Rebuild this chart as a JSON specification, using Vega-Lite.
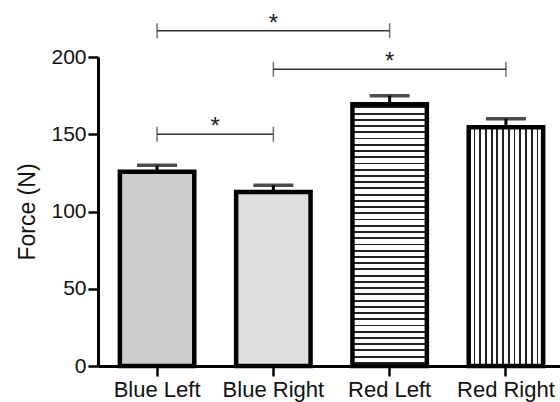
{
  "$schema": "https://vega.github.io/schema/vega-lite/v6.json",
  "width": 462,
  "height": 309,
  "autosize": {"type": "none"},
  "padding": {"left": 98, "top": 57, "right": 0, "bottom": 36},
  "background": "white",
  "config": {
    "view": {"stroke": null},
    "font": "Liberation Sans",
    "axis": {
      "domainColor": "black",
      "domainWidth": 3,
      "tickColor": "black",
      "tickWidth": 2.5,
      "tickSize": 10,
      "labelFontSize": 21,
      "labelColor": "#111",
      "labelFont": "Liberation Sans",
      "titleFont": "Liberation Sans",
      "titleFontSize": 23,
      "titleFontWeight": "normal",
      "titleColor": "#111",
      "grid": false
    }
  },
  "datasets": {
    "bars": [
      {"group": "Blue Left", "force": 125.8, "err": 130},
      {"group": "Blue Right", "force": 112.6, "err": 117},
      {"group": "Red Left", "force": 169.4, "err": 175},
      {"group": "Red Right", "force": 154.5, "err": 160}
    ],
    "brackets": [
      {"from": "Blue Left", "to": "Red Left", "y": 217},
      {"from": "Blue Right", "to": "Red Right", "y": 192},
      {"from": "Blue Left", "to": "Blue Right", "y": 150}
    ]
  },
  "layer": [
    {
      "data": {"name": "bars"},
      "transform": [{"filter": "datum.group === 'Blue Left'"}],
      "mark": {"type": "bar", "fill": "#cccccc", "stroke": "black", "strokeWidth": 4.5},
      "encoding": {
        "x": {
          "field": "group", "type": "nominal", "sort": null, "title": null,
          "scale": {"domain": ["Blue Left", "Blue Right", "Red Left", "Red Right"], "range": [0, 467], "paddingInner": 0.36, "paddingOuter": 0.188},
          "axis": {"labelAngle": 0, "labelPadding": 3, "labelFontSize": 22}
        },
        "y": {
          "field": "force", "type": "quantitative", "title": "Force (N)",
          "scale": {"domain": [0, 200], "nice": false},
          "axis": {"values": [0, 50, 100, 150, 200], "labelPadding": 2, "titlePadding": 11}
        }
      }
    },
    {
      "data": {"name": "bars"},
      "transform": [{"filter": "datum.group === 'Blue Right'"}],
      "mark": {"type": "bar", "fill": "#dedede", "stroke": "black", "strokeWidth": 4.5},
      "encoding": {
        "x": {"field": "group", "type": "nominal", "sort": null, "title": null},
        "y": {"field": "force", "type": "quantitative", "title": "Force (N)"}
      }
    },
    {
      "data": {"name": "bars"},
      "transform": [{"filter": "datum.group === 'Red Left'"}],
      "mark": {
        "type": "bar", "stroke": "black", "strokeWidth": 4.5,
        "fill": {
          "gradient": "linear", "x1": 0, "y1": 0, "x2": 0, "y2": 1,
          "stops": [
            {"offset": 0.00833, "color": "white"}, {"offset": 0.00833, "color": "#222"}, {"offset": 0.01548, "color": "#222"}, {"offset": 0.01548, "color": "white"},
            {"offset": 0.03214, "color": "white"}, {"offset": 0.03214, "color": "#222"}, {"offset": 0.03929, "color": "#222"}, {"offset": 0.03929, "color": "white"},
            {"offset": 0.05595, "color": "white"}, {"offset": 0.05595, "color": "#222"}, {"offset": 0.0631, "color": "#222"}, {"offset": 0.0631, "color": "white"},
            {"offset": 0.07976, "color": "white"}, {"offset": 0.07976, "color": "#222"}, {"offset": 0.0869, "color": "#222"}, {"offset": 0.0869, "color": "white"},
            {"offset": 0.10357, "color": "white"}, {"offset": 0.10357, "color": "#222"}, {"offset": 0.11071, "color": "#222"}, {"offset": 0.11071, "color": "white"},
            {"offset": 0.12738, "color": "white"}, {"offset": 0.12738, "color": "#222"}, {"offset": 0.13452, "color": "#222"}, {"offset": 0.13452, "color": "white"},
            {"offset": 0.15119, "color": "white"}, {"offset": 0.15119, "color": "#222"}, {"offset": 0.15833, "color": "#222"}, {"offset": 0.15833, "color": "white"},
            {"offset": 0.175, "color": "white"}, {"offset": 0.175, "color": "#222"}, {"offset": 0.18214, "color": "#222"}, {"offset": 0.18214, "color": "white"},
            {"offset": 0.19881, "color": "white"}, {"offset": 0.19881, "color": "#222"}, {"offset": 0.20595, "color": "#222"}, {"offset": 0.20595, "color": "white"},
            {"offset": 0.22262, "color": "white"}, {"offset": 0.22262, "color": "#222"}, {"offset": 0.22976, "color": "#222"}, {"offset": 0.22976, "color": "white"},
            {"offset": 0.24643, "color": "white"}, {"offset": 0.24643, "color": "#222"}, {"offset": 0.25357, "color": "#222"}, {"offset": 0.25357, "color": "white"},
            {"offset": 0.27024, "color": "white"}, {"offset": 0.27024, "color": "#222"}, {"offset": 0.27738, "color": "#222"}, {"offset": 0.27738, "color": "white"},
            {"offset": 0.29405, "color": "white"}, {"offset": 0.29405, "color": "#222"}, {"offset": 0.30119, "color": "#222"}, {"offset": 0.30119, "color": "white"},
            {"offset": 0.31786, "color": "white"}, {"offset": 0.31786, "color": "#222"}, {"offset": 0.325, "color": "#222"}, {"offset": 0.325, "color": "white"},
            {"offset": 0.34167, "color": "white"}, {"offset": 0.34167, "color": "#222"}, {"offset": 0.34881, "color": "#222"}, {"offset": 0.34881, "color": "white"},
            {"offset": 0.36548, "color": "white"}, {"offset": 0.36548, "color": "#222"}, {"offset": 0.37262, "color": "#222"}, {"offset": 0.37262, "color": "white"},
            {"offset": 0.38929, "color": "white"}, {"offset": 0.38929, "color": "#222"}, {"offset": 0.39643, "color": "#222"}, {"offset": 0.39643, "color": "white"},
            {"offset": 0.4131, "color": "white"}, {"offset": 0.4131, "color": "#222"}, {"offset": 0.42024, "color": "#222"}, {"offset": 0.42024, "color": "white"},
            {"offset": 0.4369, "color": "white"}, {"offset": 0.4369, "color": "#222"}, {"offset": 0.44405, "color": "#222"}, {"offset": 0.44405, "color": "white"},
            {"offset": 0.46071, "color": "white"}, {"offset": 0.46071, "color": "#222"}, {"offset": 0.46786, "color": "#222"}, {"offset": 0.46786, "color": "white"},
            {"offset": 0.48452, "color": "white"}, {"offset": 0.48452, "color": "#222"}, {"offset": 0.49167, "color": "#222"}, {"offset": 0.49167, "color": "white"},
            {"offset": 0.50833, "color": "white"}, {"offset": 0.50833, "color": "#222"}, {"offset": 0.51548, "color": "#222"}, {"offset": 0.51548, "color": "white"},
            {"offset": 0.53214, "color": "white"}, {"offset": 0.53214, "color": "#222"}, {"offset": 0.53929, "color": "#222"}, {"offset": 0.53929, "color": "white"},
            {"offset": 0.55595, "color": "white"}, {"offset": 0.55595, "color": "#222"}, {"offset": 0.5631, "color": "#222"}, {"offset": 0.5631, "color": "white"},
            {"offset": 0.57976, "color": "white"}, {"offset": 0.57976, "color": "#222"}, {"offset": 0.5869, "color": "#222"}, {"offset": 0.5869, "color": "white"},
            {"offset": 0.60357, "color": "white"}, {"offset": 0.60357, "color": "#222"}, {"offset": 0.61071, "color": "#222"}, {"offset": 0.61071, "color": "white"},
            {"offset": 0.62738, "color": "white"}, {"offset": 0.62738, "color": "#222"}, {"offset": 0.63452, "color": "#222"}, {"offset": 0.63452, "color": "white"},
            {"offset": 0.65119, "color": "white"}, {"offset": 0.65119, "color": "#222"}, {"offset": 0.65833, "color": "#222"}, {"offset": 0.65833, "color": "white"},
            {"offset": 0.675, "color": "white"}, {"offset": 0.675, "color": "#222"}, {"offset": 0.68214, "color": "#222"}, {"offset": 0.68214, "color": "white"},
            {"offset": 0.69881, "color": "white"}, {"offset": 0.69881, "color": "#222"}, {"offset": 0.70595, "color": "#222"}, {"offset": 0.70595, "color": "white"},
            {"offset": 0.72262, "color": "white"}, {"offset": 0.72262, "color": "#222"}, {"offset": 0.72976, "color": "#222"}, {"offset": 0.72976, "color": "white"},
            {"offset": 0.74643, "color": "white"}, {"offset": 0.74643, "color": "#222"}, {"offset": 0.75357, "color": "#222"}, {"offset": 0.75357, "color": "white"},
            {"offset": 0.77024, "color": "white"}, {"offset": 0.77024, "color": "#222"}, {"offset": 0.77738, "color": "#222"}, {"offset": 0.77738, "color": "white"},
            {"offset": 0.79405, "color": "white"}, {"offset": 0.79405, "color": "#222"}, {"offset": 0.80119, "color": "#222"}, {"offset": 0.80119, "color": "white"},
            {"offset": 0.81786, "color": "white"}, {"offset": 0.81786, "color": "#222"}, {"offset": 0.825, "color": "#222"}, {"offset": 0.825, "color": "white"},
            {"offset": 0.84167, "color": "white"}, {"offset": 0.84167, "color": "#222"}, {"offset": 0.84881, "color": "#222"}, {"offset": 0.84881, "color": "white"},
            {"offset": 0.86548, "color": "white"}, {"offset": 0.86548, "color": "#222"}, {"offset": 0.87262, "color": "#222"}, {"offset": 0.87262, "color": "white"},
            {"offset": 0.88929, "color": "white"}, {"offset": 0.88929, "color": "#222"}, {"offset": 0.89643, "color": "#222"}, {"offset": 0.89643, "color": "white"},
            {"offset": 0.9131, "color": "white"}, {"offset": 0.9131, "color": "#222"}, {"offset": 0.92024, "color": "#222"}, {"offset": 0.92024, "color": "white"},
            {"offset": 0.9369, "color": "white"}, {"offset": 0.9369, "color": "#222"}, {"offset": 0.94405, "color": "#222"}, {"offset": 0.94405, "color": "white"},
            {"offset": 0.96071, "color": "white"}, {"offset": 0.96071, "color": "#222"}, {"offset": 0.96786, "color": "#222"}, {"offset": 0.96786, "color": "white"},
            {"offset": 0.98452, "color": "white"}, {"offset": 0.98452, "color": "#222"}, {"offset": 0.99167, "color": "#222"}, {"offset": 0.99167, "color": "white"}
          ]
        }
      },
      "encoding": {
        "x": {"field": "group", "type": "nominal", "sort": null, "title": null},
        "y": {"field": "force", "type": "quantitative", "title": "Force (N)"}
      }
    },
    {
      "data": {"name": "bars"},
      "transform": [{"filter": "datum.group === 'Red Right'"}],
      "mark": {
        "type": "bar", "stroke": "black", "strokeWidth": 4.5,
        "fill": {
          "gradient": "linear", "x1": 0, "y1": 0, "x2": 1, "y2": 0,
          "stops": [
            {"offset": 0.0649, "color": "white"}, {"offset": 0.0649, "color": "#222"}, {"offset": 0.0889, "color": "#222"}, {"offset": 0.0889, "color": "white"},
            {"offset": 0.1419, "color": "white"}, {"offset": 0.1419, "color": "#222"}, {"offset": 0.1659, "color": "#222"}, {"offset": 0.1659, "color": "white"},
            {"offset": 0.2188, "color": "white"}, {"offset": 0.2188, "color": "#222"}, {"offset": 0.2428, "color": "#222"}, {"offset": 0.2428, "color": "white"},
            {"offset": 0.2957, "color": "white"}, {"offset": 0.2957, "color": "#222"}, {"offset": 0.3197, "color": "#222"}, {"offset": 0.3197, "color": "white"},
            {"offset": 0.3726, "color": "white"}, {"offset": 0.3726, "color": "#222"}, {"offset": 0.3966, "color": "#222"}, {"offset": 0.3966, "color": "white"},
            {"offset": 0.4495, "color": "white"}, {"offset": 0.4495, "color": "#222"}, {"offset": 0.4735, "color": "#222"}, {"offset": 0.4735, "color": "white"},
            {"offset": 0.5265, "color": "white"}, {"offset": 0.5265, "color": "#222"}, {"offset": 0.5505, "color": "#222"}, {"offset": 0.5505, "color": "white"},
            {"offset": 0.6034, "color": "white"}, {"offset": 0.6034, "color": "#222"}, {"offset": 0.6274, "color": "#222"}, {"offset": 0.6274, "color": "white"},
            {"offset": 0.6803, "color": "white"}, {"offset": 0.6803, "color": "#222"}, {"offset": 0.7043, "color": "#222"}, {"offset": 0.7043, "color": "white"},
            {"offset": 0.7572, "color": "white"}, {"offset": 0.7572, "color": "#222"}, {"offset": 0.7812, "color": "#222"}, {"offset": 0.7812, "color": "white"},
            {"offset": 0.8342, "color": "white"}, {"offset": 0.8342, "color": "#222"}, {"offset": 0.8582, "color": "#222"}, {"offset": 0.8582, "color": "white"},
            {"offset": 0.9111, "color": "white"}, {"offset": 0.9111, "color": "#222"}, {"offset": 0.9351, "color": "#222"}, {"offset": 0.9351, "color": "white"}
          ]
        }
      },
      "encoding": {
        "x": {"field": "group", "type": "nominal", "sort": null, "title": null},
        "y": {"field": "force", "type": "quantitative", "title": "Force (N)"}
      }
    },
    {
      "data": {"name": "bars"},
      "mark": {"type": "rule", "color": "black", "strokeWidth": 3},
      "encoding": {
        "x": {"field": "group", "type": "nominal", "sort": null, "title": null},
        "y": {"field": "force", "type": "quantitative", "title": "Force (N)"},
        "y2": {"field": "err"}
      }
    },
    {
      "data": {"name": "bars"},
      "mark": {"type": "tick", "color": "black", "size": 40, "thickness": 3.5, "orient": "horizontal"},
      "encoding": {
        "x": {"field": "group", "type": "nominal", "sort": null, "title": null},
        "y": {"field": "err", "type": "quantitative", "title": "Force (N)"}
      }
    },
    {
      "data": {"name": "brackets"},
      "mark": {"type": "rule", "color": "#333", "strokeWidth": 1.5},
      "encoding": {
        "x": {"field": "from", "type": "nominal", "sort": null, "title": null},
        "x2": {"field": "to"},
        "y": {"field": "y", "type": "quantitative", "title": "Force (N)"}
      }
    },
    {
      "data": {"name": "brackets"},
      "transform": [{"fold": ["from", "to"], "as": ["end", "cat"]}],
      "mark": {"type": "tick", "color": "#333", "size": 15, "thickness": 1.5, "orient": "vertical"},
      "encoding": {
        "x": {"field": "cat", "type": "nominal", "sort": null, "title": null},
        "y": {"field": "y", "type": "quantitative", "title": "Force (N)"}
      }
    },
    {
      "data": {"values": [{"mid": "Blue Right", "y": 217}, {"mid": "Red Left", "y": 192}]},
      "mark": {"type": "text", "text": "*", "fontSize": 24, "color": "#222", "baseline": "alphabetic", "dy": 0},
      "encoding": {
        "x": {"field": "mid", "type": "nominal", "sort": null, "title": null},
        "y": {"field": "y", "type": "quantitative", "title": "Force (N)"}
      }
    },
    {
      "data": {"values": [{"mid": "Blue Left", "y": 150}]},
      "mark": {"type": "text", "text": "*", "fontSize": 24, "color": "#222", "baseline": "alphabetic", "dy": 0, "dx": 58},
      "encoding": {
        "x": {"field": "mid", "type": "nominal", "sort": null, "title": null},
        "y": {"field": "y", "type": "quantitative", "title": "Force (N)"}
      }
    }
  ]
}
